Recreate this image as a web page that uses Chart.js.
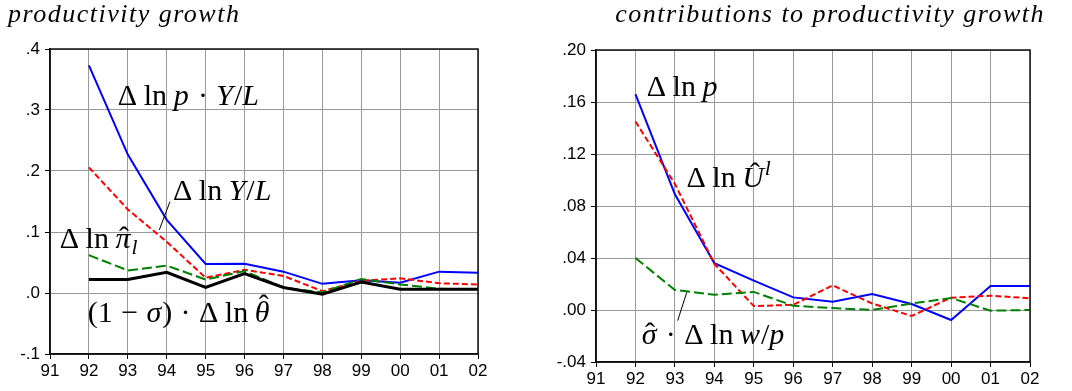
<!DOCTYPE html>
<html><head><meta charset="utf-8">
<script src="https://cdn.jsdelivr.net/npm/chart.js@4"></script>
<style>
body{margin:0;background:#fff;width:1072px;height:391px;overflow:hidden;position:relative}
.p{position:absolute;top:0;width:536px;height:391px}
</style></head><body>
<div class="p" style="left:0"><canvas id="c1" width="536" height="391"></canvas></div>
<div class="p" style="left:536px"><canvas id="c2" width="536" height="391"></canvas></div>
<script>
// ---- data ----
const years = ['91','92','93','94','95','96','97','98','99','00','01','02'];
// left panel: productivity growth
const dlnPYL   = [null, .373, .227, .120, .0475, .048, .035, .015, .021, .017, .035, .033];
const dlnYL    = [null, .206, .137, .084, .025, .038, .028, .003, .020, .024, .016, .014];
const dlnPi    = [null, .062, .037, .045, .022, .036, .009, .001, .023, .014, .007, .006];
const sigTheta = [null, .022, .022, .034, .009, .032, .009, -.002, .018, .006, .006, .006];
const leftYTicks = ['-.1','.0','.1','.2','.3','.4'];
// right panel: contributions to productivity growth
const dlnP  = [null, .166, .089, .036, .0226, .0097, .0064, .0123, .0046, -.0077, .0185, .0185];
const dlnU  = [null, .145, .097, .0355, .003, .004, .019, .005, -.0046, .0095, .011, .009];
const sigWP = [null, .040, .0154, .0118, .0139, .0033, .0015, .000, .005, .0092, -.0005, .000];
const rightYTicks = ['-.04','.00','.04','.08','.12','.16','.20'];

const SERIF = '"Liberation Serif","DejaVu Serif",serif';
const SANS = '"Liberation Sans",Arial,sans-serif';

function drawMath(ctx, x, y, segs, size){
  ctx.save();
  ctx.fillStyle = '#000';
  ctx.textBaseline = 'alphabetic';
  ctx.textAlign = 'left';
  for (const s of segs){
    if (s.g !== undefined){ x += s.g*size; continue; }
    const fs = (s.sub||s.sup) ? size*0.72 : size;
    const dy = s.sub ? size*0.2 : (s.sup ? -size*0.4 : 0);
    ctx.font = (s.it?'italic ':'') + fs + 'px ' + SERIF;
    ctx.fillText(s.t, x, y+dy);
    const w = ctx.measureText(s.t).width;
    if (s.hat){
      ctx.save();
      ctx.font = fs + 'px ' + SERIF;
      ctx.textAlign = 'center';
      ctx.fillText('\u02C6', x + w/2 + (s.hx||0)*fs, y + dy + (s.hy||0)*fs);
      ctx.restore();
    }
    x += w + (s.it ? 0.03*fs : 0);
  }
  ctx.restore();
}

function mkPlugin(cfg){
  return {
    id: 'deco',
    afterDraw(chart){
      const ctx = chart.ctx, a = chart.chartArea;
      const xs = chart.scales.x, ys = chart.scales.y;
      ctx.save();
      ctx.strokeStyle = '#111';
      ctx.lineWidth = 1.5;
      ctx.strokeRect(a.left, a.top, a.right - a.left, a.bottom - a.top);
      // title
      ctx.font = 'italic ' + cfg.titleSize + 'px ' + SERIF;
      ctx.letterSpacing = cfg.titleSpacing + 'px';
      ctx.fillStyle = '#000';
      ctx.textBaseline = 'alphabetic';
      ctx.textAlign = cfg.titleAlign;
      ctx.fillText(cfg.title, cfg.titleX, 22);
      ctx.letterSpacing = '0px';
      // leader lines
      ctx.strokeStyle = '#000';
      ctx.lineWidth = 1;
      for (const l of cfg.leaders){
        ctx.beginPath();
        ctx.moveTo(xs.getPixelForValue(l[0]), ys.getPixelForValue(l[1]));
        ctx.lineTo(xs.getPixelForValue(l[2]), ys.getPixelForValue(l[3]));
        ctx.stroke();
      }
      ctx.restore();
      for (const lab of cfg.labels){
        drawMath(ctx, xs.getPixelForValue(lab.xi), ys.getPixelForValue(lab.yv), lab.segs, cfg.mathSize);
      }
    }
  };
}

function ds(data, color, dash, width){
  return {data, borderColor: color, borderDash: dash, borderWidth: width,
          pointRadius: 0, fill: false, tension: 0, spanGaps: false, borderCapStyle: 'butt'};
}

function makeChart(id, datasets, yMin, yMax, step, yLabels, yWidth, xHeight, pad, cfg){
  return new Chart(document.getElementById(id), {
    type: 'line',
    data: {labels: years, datasets},
    options: {
      responsive: false, animation: false, devicePixelRatio: 1,
      layout: {padding: pad},
      plugins: {legend: {display: false}, tooltip: {enabled: false}, title: {display: false}},
      scales: {
        x: {
          type: 'category', offset: false,
          grid: {color: '#999999', borderDash: [1,2], lineWidth: 1, drawTicks: true,
                 tickLength: 5, tickColor: '#000', tickBorderDash: [], tickWidth: 1, offset: false},
          border: {display: true, color: '#111', width: 1.5},
          ticks: {color: '#000', font: {family: SANS, size: 17}, padding: 2, maxRotation: 0, autoSkip: false},
          afterFit(s){ s.height = xHeight; }
        },
        y: {
          min: yMin, max: yMax,
          grid: {color: '#999999', borderDash: [1,2], lineWidth: 1, drawTicks: true,
                 tickLength: 5, tickColor: '#000', tickBorderDash: [], tickWidth: 1},
          border: {display: true, color: '#111', width: 1.5},
          ticks: {stepSize: step, color: '#000', font: {family: SANS, size: 17}, padding: 5,
                  callback: (v, i) => yLabels[i]},
          afterFit(s){ s.width = yWidth; }
        }
      }
    },
    plugins: [mkPlugin(cfg)]
  });
}

// math label pieces
const D = {t:'\u0394'}, LN = {t:'ln'}, G = {g:0.22}, G2 = {g:0.28};

makeChart('c1', [
  ds(sigTheta, '#000000', [], 3),
  ds(dlnPi, '#008000', [10,4], 2),
  ds(dlnYL, '#ff0000', [6,3], 2),
  ds(dlnPYL, '#0000ff', [], 2)
], -0.1, 0.4, 0.1, leftYTicks, 50, 37, {left: 0, top: 49, right: 58, bottom: 0}, {
  title: 'productivity growth', titleSize: 26, titleSpacing: 1.5, titleAlign: 'left', titleX: 8, mathSize: 30,
  leaders: [[3.083, 0.1497, 2.808, 0.1033]],
  labels: [
    {xi: 1.744, yv: 0.308, segs: [D, G, LN, G, {t:'p', it:1}, G2, {t:'\u00B7'}, G2, {t:'Y', it:1}, {t:'/'}, {t:'L', it:1}]},
    {xi: 3.16, yv: 0.152, segs: [D, G, LN, G, {t:'Y', it:1}, {t:'/'}, {t:'L', it:1}]},
    {xi: 0.25, yv: 0.0738, segs: [D, G, LN, G, {t:'\u03C0', it:1, hat:1, hy:-0.02, hx:0.03}, {t:'l', it:1, sub:1}]},
    {xi: 0.97, yv: -0.0475, segs: [{t:'('}, {t:'1'}, G2, {t:'\u2212'}, G2, {t:'\u03C3', it:1}, {t:')'}, G2, {t:'\u00B7'}, G2, D, G, LN, G, {t:'\u03B8', it:1, hat:1, hy:-0.24, hx:0.05}]}
  ]
});

makeChart('c2', [
  ds(sigWP, '#008000', [10,4], 2),
  ds(dlnU, '#ff0000', [6,3], 2),
  ds(dlnP, '#0000ff', [], 2)
], -0.04, 0.20, 0.04, rightYTicks, 60, 29, {left: 0, top: 50, right: 42, bottom: 0}, {
  title: 'contributions to productivity growth', titleSize: 26, titleSpacing: 1.5, titleAlign: 'right', titleX: 509, mathSize: 30,
  leaders: [[2.30, 0.01356, 2.07, -0.0082]],
  labels: [
    {xi: 1.285, yv: 0.165, segs: [D, G, LN, G, {t:'p', it:1}]},
    {xi: 2.292, yv: 0.0943, segs: [D, G, LN, G, {t:'U', it:1, hat:1, hy:-0.14, hx:0.06}, {t:'l', it:1, sup:1}]},
    {xi: 1.158, yv: -0.026, segs: [{t:'\u03C3', it:1, hat:1, hy:-0.02, hx:0.03}, G2, {t:'\u00B7'}, G2, D, G, LN, G, {t:'w', it:1}, {t:'/'}, {t:'p', it:1}]}
  ]
});
</script>
</body></html>
